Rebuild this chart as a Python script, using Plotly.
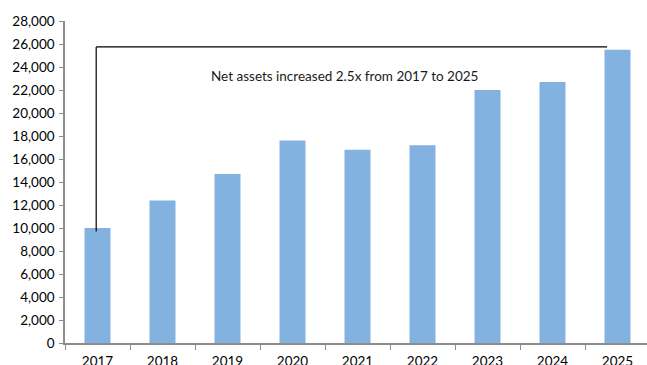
import plotly.graph_objects as go

# Net assets by year
years = ["2017", "2018", "2019", "2020", "2021", "2022", "2023", "2024", "2025"]
net_assets = [10000, 12400, 14700, 17600, 16800, 17200, 22000, 22700, 25500]
y_ticks = list(range(0, 28001, 2000))
y_tick_text = [f"{v:,}" for v in y_ticks]
note_text = "Net assets increased 2.5x from 2017 to 2025"

FONT = "Lato"
BAR_COLOR = "#83B2E0"
AXIS_COLOR = "#8C8C8C"

fig = go.Figure(
    go.Bar(
        x=years,
        y=net_assets,
        width=0.4,
        marker=dict(color=BAR_COLOR, line=dict(width=0)),
        hoverinfo="skip",
    )
)

# Bracket linking the first and last year
x_first = 0 - 0.02
x_last = len(years) - 1 - 0.16
y_bottom = net_assets[0] - 300
y_top = net_assets[-1] + 250
fig.add_shape(type="line", x0=x_first, x1=x_first, y0=y_bottom, y1=y_top,
              xref="x", yref="y", line=dict(color="#000000", width=1.2))
fig.add_shape(type="line", x0=x_first, x1=x_last, y0=y_top, y1=y_top,
              xref="x", yref="y", line=dict(color="#000000", width=1.2))

fig.add_annotation(
    x=3.8, y=23200, xref="x", yref="y",
    text=note_text, showarrow=False,
    font=dict(family=FONT, size=13.5, color="#1a1a1a"),
    xanchor="center", yanchor="middle",
)

fig.update_layout(
    width=647, height=365,
    margin=dict(l=65, r=0, t=21, b=22),
    paper_bgcolor="white", plot_bgcolor="white",
    showlegend=False,
    font=dict(family=FONT, size=13, color="#000000"),
    xaxis=dict(
        type="category",
        range=[-0.5, -0.5 + 582 / 65],
        showgrid=False, zeroline=False,
        showline=True, linecolor=AXIS_COLOR, linewidth=1.5,
        ticks="outside", tickson="boundaries", ticklen=5,
        tickcolor=AXIS_COLOR, tickwidth=1.2,
        ticklabelstandoff=5,
        tickfont=dict(family=FONT, size=13.5, color="#000000"),
        automargin=False,
        fixedrange=True,
    ),
    yaxis=dict(
        range=[0, 28000],
        tickmode="array",
        tickvals=y_ticks,
        ticktext=y_tick_text,
        showgrid=False, zeroline=False,
        showline=True, linecolor=AXIS_COLOR, linewidth=1.5,
        ticks="outside", ticklen=4, tickcolor=AXIS_COLOR, tickwidth=1.2,
        ticklabelstandoff=2,
        tickfont=dict(family=FONT, size=13.5, color="#000000"),
        automargin=False,
        fixedrange=True,
    ),
)

fig.write_html("out.html", config={"displayModeBar": False})
